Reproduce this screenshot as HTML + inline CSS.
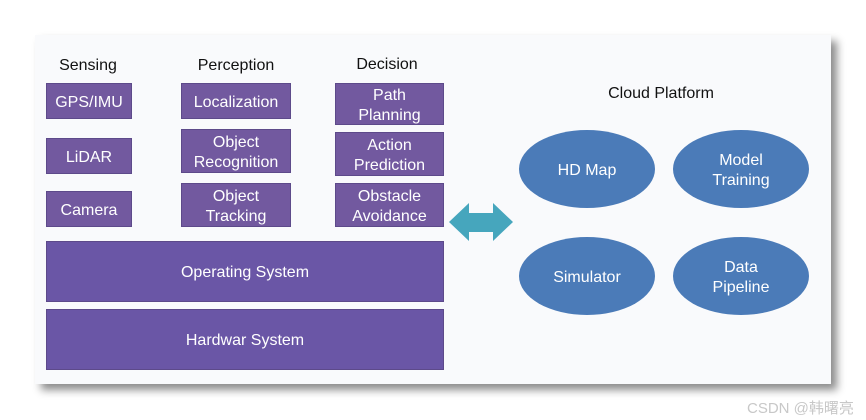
<!DOCTYPE html>
<html><head><style>
body{margin:0;width:866px;height:420px;background:#fff;position:relative;overflow:hidden;font-family:"Liberation Sans",sans-serif}
.panel{position:absolute;left:35px;top:35px;width:796px;height:349px;background:#f9fafc;box-shadow:6px 6px 8px rgba(0,0,0,.45)}
.b{position:absolute;background:#72599f;border:1px solid #5d4a8a;color:#fff;font-size:16px;line-height:20px;display:flex;align-items:center;justify-content:center;text-align:center;box-sizing:border-box;padding-top:3px}
.h{position:absolute;font-size:16px;color:#111;width:120px;text-align:center}
.e{position:absolute;width:136px;height:78px;border-radius:50%;background:#4b7bb8;color:#fff;font-size:16px;line-height:20px;display:flex;align-items:center;justify-content:center;text-align:center;box-sizing:border-box;padding-top:3px}
</style></head><body>
<div class="panel"></div>
<div class="h" style="left:28px;top:57px">Sensing</div>
<div class="h" style="left:176px;top:57px">Perception</div>
<div class="h" style="left:327px;top:56px">Decision</div>
<div class="h" style="left:601px;top:85px">Cloud Platform</div>
<div class="b" style="left:46px;top:83px;width:86px;height:36px">GPS/IMU</div>
<div class="b" style="left:46px;top:138px;width:86px;height:36px">LiDAR</div>
<div class="b" style="left:46px;top:191px;width:86px;height:36px">Camera</div>
<div class="b" style="left:181px;top:83px;width:110px;height:36px">Localization</div>
<div class="b" style="left:181px;top:129px;width:110px;height:44px">Object<br>Recognition</div>
<div class="b" style="left:181px;top:183px;width:110px;height:44px">Object<br>Tracking</div>
<div class="b" style="left:335px;top:83px;width:109px;height:42px">Path<br>Planning</div>
<div class="b" style="left:335px;top:132px;width:109px;height:44px">Action<br>Prediction</div>
<div class="b" style="left:335px;top:183px;width:109px;height:44px">Obstacle<br>Avoidance</div>
<div class="b" style="left:46px;top:241px;width:398px;height:61px;background:#6a56a6">Operating System</div>
<div class="b" style="left:46px;top:309px;width:398px;height:61px;background:#6a56a6">Hardwar System</div>
<svg style="position:absolute;left:0;top:0" width="866" height="420">
<polygon points="449,222 469,203 469,213 493,213 493,203 513,222 493,241 493,232 469,232 469,241" fill="#46a6bd"/>
</svg>
<div class="e" style="left:519px;top:130px">HD Map</div>
<div class="e" style="left:673px;top:130px">Model<br>Training</div>
<div class="e" style="left:519px;top:237px">Simulator</div>
<div class="e" style="left:673px;top:237px">Data<br>Pipeline</div>
<div style="position:absolute;left:747px;top:397px;font-size:15px;color:#c8c8c8;font-family:'Liberation Sans','Noto Sans CJK SC',sans-serif">CSDN @韩曙亮</div>
</body></html>
